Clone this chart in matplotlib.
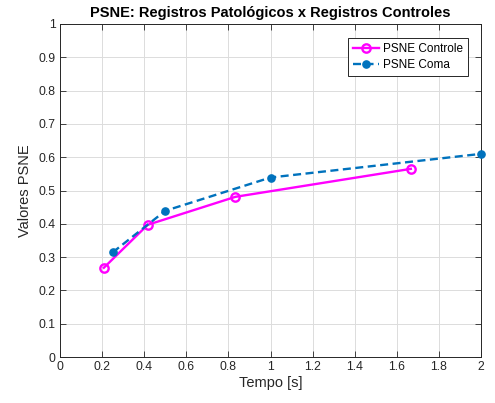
import matplotlib
matplotlib.use("Agg")
import matplotlib.pyplot as plt

# dados
t_controle = [0.2083, 0.4167, 0.8333, 1.6667]
psne_controle = [0.268, 0.397, 0.481, 0.565]
t_coma = [0.25, 0.5, 1.0, 2.0]
psne_coma = [0.314, 0.439, 0.539, 0.610]

x_ticks = [0, 0.2, 0.4, 0.6, 0.8, 1, 1.2, 1.4, 1.6, 1.8, 2]
x_labels = ["0", "0.2", "0.4", "0.6", "0.8", "1", "1.2", "1.4", "1.6", "1.8", "2"]
y_ticks = [0, 0.1, 0.2, 0.3, 0.4, 0.5, 0.6, 0.7, 0.8, 0.9, 1]
y_labels = ["0", "0.1", "0.2", "0.3", "0.4", "0.5", "0.6", "0.7", "0.8", "0.9", "1"]

plt.rcParams['font.family'] = ['Liberation Sans', 'DejaVu Sans']

fig = plt.figure(figsize=(4.95, 4.03), dpi=100)
ax = fig.add_axes([60/495, 1-357/403, 421/495, 333/403])

ax.plot(t_controle, psne_controle, '-o', color='#ff00ff', lw=1.7,
        markersize=6, markerfacecolor='none', markeredgewidth=1.7, label='PSNE Controle')
ax.plot(t_coma, psne_coma, '--o', color='#0072bd', lw=1.7,
        markersize=5.2, dashes=(3.4, 1.9), label='PSNE Coma', clip_on=False, zorder=5)

ax.set_xlim(0, 2)
ax.set_ylim(0, 1)
ax.set_xticks(x_ticks)
ax.set_xticklabels(x_labels)
ax.set_yticks(y_ticks)
ax.set_yticklabels(y_labels)
ax.tick_params(direction='in', top=True, right=True, labelsize=8.8, length=4,
               width=0.6, colors='#262626', pad=3)
ax.grid(True, color='#dcdcdc', lw=0.7)
ax.set_axisbelow(True)
for s in ax.spines.values():
    s.set_color('#262626')
    s.set_linewidth(0.7)

ax.set_title('PSNE: Registros Patológicos x Registros Controles',
             fontsize=10.5, fontweight='bold', pad=5)
ax.set_xlabel('Tempo [s]', fontsize=10.5, color='#262626', labelpad=2)
ax.set_ylabel('Valores PSNE', fontsize=10.5, color='#262626', labelpad=5)

leg = ax.legend(loc='upper right', bbox_to_anchor=(0.969, 0.958), borderaxespad=0,
                fontsize=8.5, fancybox=False, framealpha=1, edgecolor='#262626',
                handlelength=2.2, borderpad=0.4, labelspacing=0.35, handletextpad=0.4)
leg.get_frame().set_linewidth(0.7)

fig.savefig('out.png', dpi=100)
